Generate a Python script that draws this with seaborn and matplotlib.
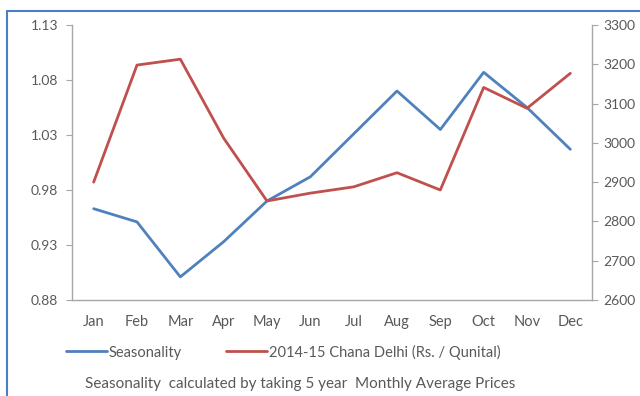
import numpy as np
import pandas as pd
import matplotlib
matplotlib.use("Agg")
import matplotlib.pyplot as plt
import seaborn as sns
from matplotlib.lines import Line2D
from matplotlib.ticker import FixedLocator

months = ["Jan", "Feb", "Mar", "Apr", "May", "Jun", "Jul", "Aug", "Sep", "Oct", "Nov", "Dec"]
seasonality = [0.963, 0.951, 0.901, 0.933, 0.970, 0.992, 1.031, 1.070, 1.035, 1.087, 1.055, 1.017]
chana_price = [2900, 3198, 3213, 3012, 2852, 2872, 2888, 2924, 2880, 3141, 3088, 3177]
left_ticks = [0.88, 0.93, 0.98, 1.03, 1.08, 1.13]
right_ticks = [2600, 2700, 2800, 2900, 3000, 3100, 3200, 3300]
label_season = "Seasonality"
label_price = "2014-15 Chana Delhi (Rs. / Qunital)"
caption = "Seasonality  calculated by taking 5 year  Monthly Average Prices"

BLUE = "#4F81BD"
RED = "#C0504D"
TXT = "#595959"
AX = "#A6A6A6"
FS = 10.5

sns.set_style("white")
plt.rcParams["font.family"] = ["Lato", "DejaVu Sans"]

df = pd.DataFrame({"Month": months, "Seasonality": seasonality, "Price": chana_price})
df["pos"] = np.arange(len(months))

fig = plt.figure(figsize=(6.4, 3.96), dpi=100)
ax = fig.add_axes([72 / 640, 1 - 300 / 396, 520 / 640, 275 / 396])
ax2 = ax.twinx()

sns.lineplot(data=df, x="pos", y="Seasonality", ax=ax, color=BLUE, lw=2, legend=False)
sns.lineplot(data=df, x="pos", y="Price", ax=ax2, color=RED, lw=2, legend=False)

ax.set_xlim(-0.5, len(months) - 0.5)
ax.set_ylim(left_ticks[0], left_ticks[-1])
ax2.set_ylim(right_ticks[0], right_ticks[-1])
ax.set_yticks(left_ticks)
ax.set_yticklabels([f"{v:.2f}" for v in left_ticks])
ax2.set_yticks(right_ticks)
ax2.set_yticklabels([str(v) for v in right_ticks])
ax.set_xticks(df["pos"])
ax.set_xticklabels(months)
ax.xaxis.set_minor_locator(FixedLocator(np.arange(-0.5, len(months), 1.0)))

ax.set_xlabel("")
ax.set_ylabel("")
ax2.set_ylabel("")

for a in (ax, ax2):
    for s in a.spines.values():
        s.set_visible(False)
ax.spines["left"].set_visible(True)
ax.spines["bottom"].set_visible(True)
ax2.spines["right"].set_visible(True)
for s in (ax.spines["left"], ax.spines["bottom"], ax2.spines["right"]):
    s.set_color(AX)
    s.set_linewidth(1)

ax.tick_params(axis="x", which="major", length=0, pad=11, labelsize=FS, labelcolor=TXT)
ax.tick_params(axis="x", which="minor", length=6, direction="inout", color=AX, width=1)
ax.tick_params(axis="y", length=4, direction="out", color=AX, labelsize=FS - 0.5, labelcolor=TXT, pad=6, left=True)
ax2.tick_params(axis="y", length=4, direction="out", color=AX, labelsize=FS - 0.5, labelcolor=TXT, pad=4, right=True)
ax.grid(False)
ax2.grid(False)

handles = [Line2D([], [], color=BLUE, lw=2), Line2D([], [], color=RED, lw=2)]
fig.legend(handles, [label_season, label_price], loc="center left",
           bbox_to_anchor=(66 / 640, 1 - 352 / 396), ncol=2, frameon=False,
           fontsize=FS, labelcolor=TXT, handlelength=2.8, handletextpad=0.15,
           columnspacing=3.0, borderpad=0, borderaxespad=0)

fig.text(85 / 640, 1 - 384 / 396, caption, fontsize=11, color=TXT, va="center", ha="left")

border = "#4A7EC8"
fig.add_artist(Line2D([7 / 640, 7 / 640], [0, 1 - 11 / 396], color=border, lw=1.5, transform=fig.transFigure))
fig.add_artist(Line2D([7 / 640, 1.0], [1 - 11 / 396, 1 - 11 / 396], color=border, lw=1.5, transform=fig.transFigure))

fig.savefig("out.png", dpi=100)
